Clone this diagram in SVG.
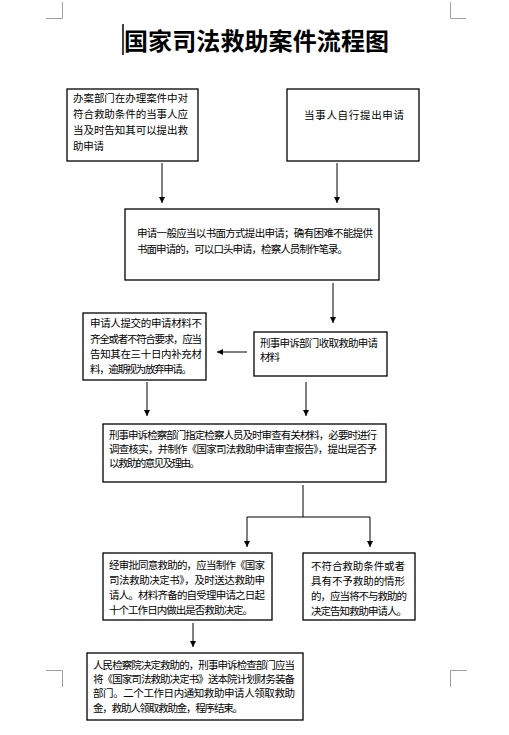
<svg xmlns="http://www.w3.org/2000/svg" width="509" height="735" viewBox="0 0 509 735">
<style>
.box{fill:#fff;stroke:#000;stroke-width:1.3}
.t{font-family:"Noto Sans CJK SC","Noto Sans",sans-serif;font-size:10.5px;fill:#000}
.c{fill:none;stroke:#000;stroke-width:1}
.crop{fill:none;stroke:#a0a0a0;stroke-width:1}
.title{font-family:"Noto Sans CJK SC",sans-serif;font-size:24px;font-weight:bold;fill:#000}
</style>
<defs>
<marker id="ah" viewBox="0 0 10 10" refX="10" refY="5" markerWidth="6" markerHeight="6" markerUnits="userSpaceOnUse" orient="auto">
<path d="M0,0 L10,5 L0,10 Z" fill="#000"/>
</marker>
</defs>
<rect width="509" height="735" fill="#fff"/>
<g id="crops">
<path class="crop" d="M46,18.5 H62.5 V2"/>
<path class="crop" d="M466,18.5 H450.5 V2"/>
<path class="crop" d="M46,670.5 H62.5 V687"/>
<path class="crop" d="M467,670.5 H450.5 V687"/>
</g>
<g id="title">
<line x1="123" y1="24" x2="123" y2="55" stroke="#000" stroke-width="1.5"/>
<text class="title" x="124" y="50" textLength="265" lengthAdjust="spacing">国家司法救助案件流程图</text>
</g>
<g id="connectors">
<line class="c" x1="162" y1="163" x2="162" y2="203" marker-end="url(#ah)"/>
<line class="c" x1="337" y1="163" x2="337" y2="203" marker-end="url(#ah)"/>
<line class="c" x1="333" y1="283" x2="333" y2="323" marker-end="url(#ah)"/>
<line class="c" x1="247" y1="352" x2="217" y2="352" marker-end="url(#ah)"/>
<line class="c" x1="147" y1="382" x2="147" y2="416" marker-end="url(#ah)"/>
<line class="c" x1="306" y1="382" x2="306" y2="416" marker-end="url(#ah)"/>
<path class="c" d="M303,485 V517 M247,517 H370"/>
<line class="c" x1="247" y1="517" x2="247" y2="547" marker-end="url(#ah)"/>
<line class="c" x1="370" y1="517" x2="370" y2="547" marker-end="url(#ah)"/>
<line class="c" x1="193" y1="623" x2="193" y2="647" marker-end="url(#ah)"/>
</g>
<g id="n1">
<rect class="box" x="67" y="89" width="131" height="72"/>
<text class="t" x="73" y="102" textLength="115" lengthAdjust="spacing">办案部门在办理案件中对</text>
<text class="t" x="73" y="118" textLength="115" lengthAdjust="spacing">符合救助条件的当事人应</text>
<text class="t" x="73" y="134" textLength="115" lengthAdjust="spacing">当及时告知其可以提出救</text>
<text class="t" x="73" y="150" textLength="31" lengthAdjust="spacing">助申请</text>
</g>
<g id="n2">
<rect class="box" x="287" y="89" width="132" height="72"/>
<text class="t" x="304" y="119" textLength="100" lengthAdjust="spacing">当事人自行提出申请</text>
</g>
<g id="n3">
<rect class="box" x="125" y="209" width="254" height="71"/>
<text class="t" x="137" y="237" textLength="236" lengthAdjust="spacing">申请一般应当以书面方式提出申请；确有困难不能提供</text>
<text class="t" x="137" y="253" textLength="211" lengthAdjust="spacing">书面申请的，可以口头申请，检察人员制作笔录。</text>
</g>
<g id="n4">
<rect class="box" x="83" y="313" width="123" height="67"/>
<text class="t" x="90" y="327" textLength="112" lengthAdjust="spacing">申请人提交的申请材料不</text>
<text class="t" x="90" y="343" textLength="112" lengthAdjust="spacing">齐全或者不符合要求，应当</text>
<text class="t" x="90" y="358" textLength="112" lengthAdjust="spacing">告知其在三十日内补充材</text>
<text class="t" x="90" y="373" textLength="102" lengthAdjust="spacing">料，逾期视为放弃申请。</text>
</g>
<g id="n5">
<rect class="box" x="254" y="332" width="133" height="44"/>
<text class="t" x="260" y="347" textLength="118" lengthAdjust="spacing">刑事申诉部门收取救助申请</text>
<text class="t" x="260" y="361" textLength="20" lengthAdjust="spacing">材料</text>
</g>
<g id="n6">
<rect class="box" x="103" y="424" width="283" height="58"/>
<text class="t" x="109" y="439" textLength="268" lengthAdjust="spacing">刑事申诉检察部门指定检察人员及时审查有关材料，必要时进行</text>
<text class="t" x="109" y="453" textLength="268" lengthAdjust="spacing">调查核实，并制作《国家司法救助申请审查报告》，提出是否予</text>
<text class="t" x="109" y="467" textLength="91" lengthAdjust="spacing">以救助的意见及理由。</text>
</g>
<g id="n7">
<rect class="box" x="103" y="553" width="169" height="67"/>
<text class="t" x="109" y="569" textLength="156" lengthAdjust="spacing">经审批同意救助的，应当制作《国家</text>
<text class="t" x="109" y="584" textLength="156" lengthAdjust="spacing">司法救助决定书》，及时送达救助申</text>
<text class="t" x="109" y="599" textLength="156" lengthAdjust="spacing">请人。材料齐备的自受理申请之日起</text>
<text class="t" x="109" y="614" textLength="144" lengthAdjust="spacing">十个工作日内做出是否救助决定。</text>
</g>
<g id="n8">
<rect class="box" x="303" y="553" width="112" height="67"/>
<text class="t" x="311" y="570" textLength="94" lengthAdjust="spacing">不符合救助条件或者</text>
<text class="t" x="311" y="585" textLength="94" lengthAdjust="spacing">具有不予救助的情形</text>
<text class="t" x="311" y="600" textLength="96" lengthAdjust="spacing">的，应当将不与救助的</text>
<text class="t" x="311" y="615" textLength="96" lengthAdjust="spacing">决定告知救助申请人。</text>
</g>
<g id="n9">
<rect class="box" x="87" y="653" width="216" height="67"/>
<text class="t" x="93" y="669" textLength="202" lengthAdjust="spacing">人民检察院决定救助的，刑事申诉检查部门应当</text>
<text class="t" x="93" y="683" textLength="202" lengthAdjust="spacing">将《国家司法救助决定书》送本院计划财务装备</text>
<text class="t" x="93" y="697" textLength="202" lengthAdjust="spacing">部门。二个工作日内通知救助申请人领取救助</text>
<text class="t" x="93" y="712" textLength="150" lengthAdjust="spacing">金，救助人领取救助金，程序结束。</text>
</g>
</svg>
